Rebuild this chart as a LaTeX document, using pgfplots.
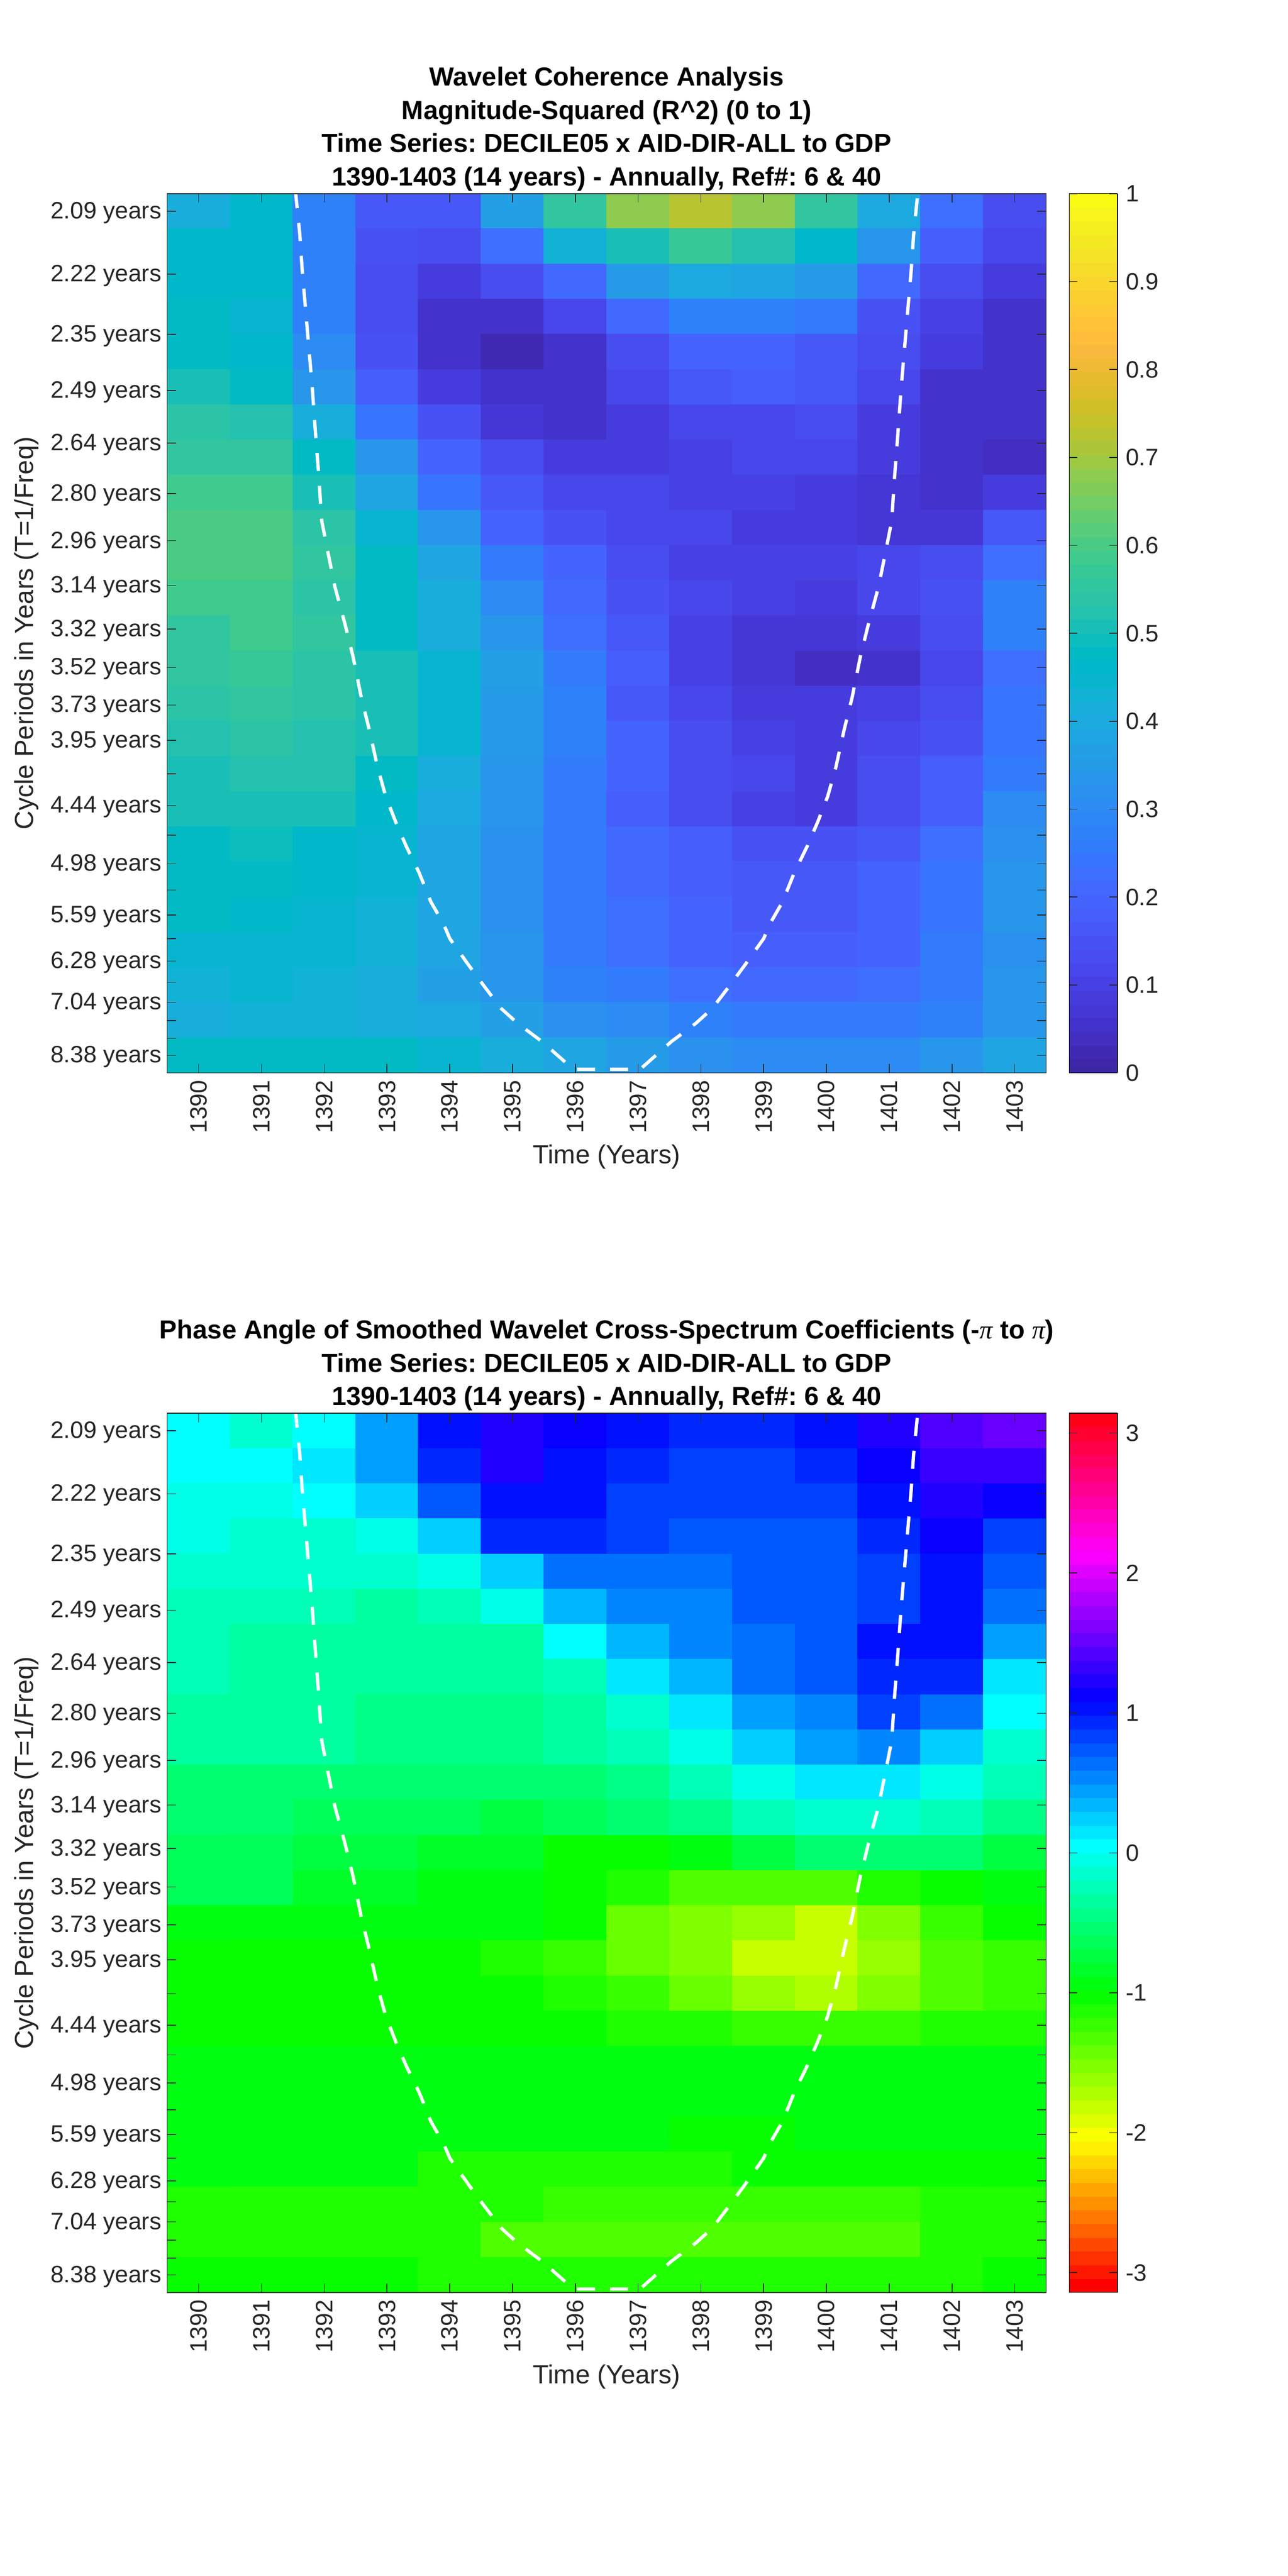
\documentclass[border=0pt]{standalone}
\usepackage{fontspec}
\setmainfont{Liberation Sans}
\newfontfamily\symf{Liberation Serif}
\usepackage{pgfplots}
\usepackage{pgfplotstable}
\pgfplotsset{compat=1.18}

% MATLAB parula(64)
\pgfplotsset{colormap={parula64}{
rgb=(.2422,.1504,.6603) rgb=(.2504,.1650,.7076) rgb=(.2578,.1818,.7511) rgb=(.2647,.1978,.7952)
rgb=(.2706,.2147,.8364) rgb=(.2751,.2342,.8710) rgb=(.2783,.2559,.8991) rgb=(.2803,.2782,.9221)
rgb=(.2813,.3006,.9414) rgb=(.2810,.3228,.9579) rgb=(.2795,.3447,.9717) rgb=(.2760,.3667,.9829)
rgb=(.2699,.3892,.9906) rgb=(.2602,.4123,.9952) rgb=(.2440,.4358,.9988) rgb=(.2206,.4603,.9973)
rgb=(.1963,.4847,.9892) rgb=(.1834,.5074,.9798) rgb=(.1786,.5289,.9682) rgb=(.1764,.5499,.9520)
rgb=(.1687,.5703,.9359) rgb=(.1540,.5902,.9218) rgb=(.1460,.6091,.9079) rgb=(.1380,.6276,.8973)
rgb=(.1248,.6459,.8883) rgb=(.1113,.6635,.8763) rgb=(.0952,.6798,.8598) rgb=(.0689,.6948,.8394)
rgb=(.0297,.7082,.8163) rgb=(.0036,.7203,.7917) rgb=(.0067,.7312,.7660) rgb=(.0433,.7411,.7394)
rgb=(.0964,.7500,.7120) rgb=(.1408,.7584,.6842) rgb=(.1717,.7670,.6554) rgb=(.1938,.7758,.6251)
rgb=(.2161,.7843,.5923) rgb=(.2470,.7918,.5567) rgb=(.2906,.7973,.5188) rgb=(.3406,.8008,.4789)
rgb=(.3909,.8029,.4354) rgb=(.4456,.8024,.3909) rgb=(.5044,.7993,.3480) rgb=(.5616,.7942,.3045)
rgb=(.6174,.7876,.2612) rgb=(.6720,.7793,.2227) rgb=(.7242,.7698,.1910) rgb=(.7738,.7598,.1646)
rgb=(.8203,.7498,.1535) rgb=(.8634,.7406,.1596) rgb=(.9035,.7330,.1774) rgb=(.9393,.7288,.2100)
rgb=(.9728,.7298,.2394) rgb=(.9956,.7434,.2371) rgb=(.9970,.7659,.2199) rgb=(.9952,.7893,.2028)
rgb=(.9892,.8136,.1885) rgb=(.9786,.8386,.1766) rgb=(.9676,.8639,.1643) rgb=(.9610,.8890,.1537)
rgb=(.9597,.9135,.1423) rgb=(.9628,.9373,.1265) rgb=(.9691,.9606,.1064) rgb=(.9769,.9839,.0805)
}}
% MATLAB hsv(64)
\pgfplotsset{colormap={hsv64}{
rgb=(1,0,0) rgb=(1,.094,0) rgb=(1,.188,0) rgb=(1,.281,0) rgb=(1,.375,0) rgb=(1,.469,0) rgb=(1,.563,0) rgb=(1,.656,0)
rgb=(1,.75,0) rgb=(1,.844,0) rgb=(1,.938,0) rgb=(.969,1,0) rgb=(.875,1,0) rgb=(.781,1,0) rgb=(.688,1,0) rgb=(.594,1,0)
rgb=(.5,1,0) rgb=(.406,1,0) rgb=(.313,1,0) rgb=(.219,1,0) rgb=(.125,1,0) rgb=(.031,1,0) rgb=(0,1,.063) rgb=(0,1,.156)
rgb=(0,1,.25) rgb=(0,1,.344) rgb=(0,1,.438) rgb=(0,1,.531) rgb=(0,1,.625) rgb=(0,1,.719) rgb=(0,1,.813) rgb=(0,1,.906)
rgb=(0,1,1) rgb=(0,.906,1) rgb=(0,.813,1) rgb=(0,.719,1) rgb=(0,.625,1) rgb=(0,.531,1) rgb=(0,.438,1) rgb=(0,.344,1)
rgb=(0,.25,1) rgb=(0,.156,1) rgb=(0,.063,1) rgb=(.031,0,1) rgb=(.125,0,1) rgb=(.219,0,1) rgb=(.313,0,1) rgb=(.406,0,1)
rgb=(.5,0,1) rgb=(.594,0,1) rgb=(.688,0,1) rgb=(.781,0,1) rgb=(.875,0,1) rgb=(.969,0,1) rgb=(1,0,.938) rgb=(1,0,.844)
rgb=(1,0,.75) rgb=(1,0,.656) rgb=(1,0,.563) rgb=(1,0,.469) rgb=(1,0,.375) rgb=(1,0,.281) rgb=(1,0,.188) rgb=(1,0,.094)
}}

% coherence, one line per period row, 14 years
\pgfplotstableread[row sep=\\]{
c\\
.41\\ .46\\ .27\\ .17\\ .17\\ .36\\ .55\\ .68\\ .73\\ .68\\ .56\\ .40\\ .22\\ .13\\
.46\\ .46\\ .28\\ .15\\ .13\\ .22\\ .43\\ .50\\ .57\\ .53\\ .46\\ .33\\ .18\\ .11\\
.46\\ .46\\ .27\\ .14\\ .09\\ .14\\ .21\\ .35\\ .40\\ .39\\ .35\\ .21\\ .14\\ .08\\
.47\\ .45\\ .27\\ .13\\ .05\\ .05\\ .12\\ .21\\ .28\\ .28\\ .26\\ .15\\ .10\\ .05\\
.48\\ .46\\ .30\\ .15\\ .05\\ .03\\ .06\\ .14\\ .20\\ .20\\ .17\\ .13\\ .08\\ .05\\
.50\\ .48\\ .34\\ .18\\ .09\\ .06\\ .06\\ .12\\ .16\\ .18\\ .16\\ .11\\ .06\\ .05\\
.54\\ .52\\ .41\\ .24\\ .15\\ .07\\ .05\\ .09\\ .12\\ .12\\ .13\\ .09\\ .06\\ .05\\
.56\\ .56\\ .47\\ .33\\ .19\\ .13\\ .09\\ .09\\ .10\\ .11\\ .11\\ .09\\ .06\\ .04\\
.58\\ .58\\ .50\\ .38\\ .24\\ .17\\ .12\\ .11\\ .10\\ .10\\ .09\\ .07\\ .05\\ .09\\
.60\\ .60\\ .54\\ .44\\ .33\\ .20\\ .15\\ .12\\ .11\\ .09\\ .09\\ .07\\ .07\\ .17\\
.60\\ .60\\ .55\\ .48\\ .38\\ .26\\ .19\\ .14\\ .10\\ .10\\ .10\\ .11\\ .13\\ .23\\
.58\\ .58\\ .54\\ .48\\ .41\\ .30\\ .21\\ .15\\ .11\\ .10\\ .08\\ .11\\ .15\\ .28\\
.56\\ .59\\ .55\\ .48\\ .42\\ .34\\ .23\\ .16\\ .10\\ .07\\ .07\\ .09\\ .14\\ .27\\
.55\\ .57\\ .54\\ .51\\ .44\\ .36\\ .26\\ .18\\ .10\\ .07\\ .04\\ .05\\ .12\\ .22\\
.54\\ .55\\ .54\\ .51\\ .45\\ .35\\ .27\\ .17\\ .12\\ .09\\ .08\\ .10\\ .14\\ .24\\
.52\\ .54\\ .53\\ .51\\ .44\\ .35\\ .27\\ .19\\ .14\\ .10\\ .09\\ .11\\ .15\\ .24\\
.50\\ .52\\ .52\\ .47\\ .41\\ .34\\ .26\\ .19\\ .14\\ .12\\ .09\\ .13\\ .18\\ .26\\
.50\\ .51\\ .51\\ .46\\ .40\\ .33\\ .26\\ .18\\ .13\\ .10\\ .09\\ .14\\ .18\\ .30\\
.48\\ .49\\ .46\\ .45\\ .39\\ .32\\ .26\\ .21\\ .18\\ .15\\ .15\\ .17\\ .23\\ .32\\
.47\\ .47\\ .46\\ .44\\ .39\\ .32\\ .26\\ .21\\ .18\\ .16\\ .16\\ .19\\ .24\\ .33\\
.47\\ .46\\ .45\\ .43\\ .38\\ .32\\ .26\\ .22\\ .19\\ .17\\ .17\\ .19\\ .24\\ .33\\
.44\\ .45\\ .44\\ .43\\ .38\\ .33\\ .26\\ .23\\ .19\\ .18\\ .18\\ .20\\ .25\\ .32\\
.43\\ .44\\ .43\\ .42\\ .37\\ .33\\ .27\\ .25\\ .22\\ .21\\ .21\\ .23\\ .26\\ .34\\
.41\\ .43\\ .43\\ .41\\ .40\\ .37\\ .32\\ .30\\ .27\\ .26\\ .26\\ .26\\ .28\\ .34\\
.47\\ .47\\ .48\\ .47\\ .45\\ .41\\ .38\\ .35\\ .32\\ .30\\ .30\\ .31\\ .33\\ .38\\
}\tabcoh

% phase angle, same layout
\pgfplotstableread[row sep=\\]{
c\\
.00\\ -.10\\ .03\\ .45\\ 1.00\\ 1.25\\ 1.08\\ 1.00\\ .95\\ .95\\ 1.05\\ 1.25\\ 1.45\\ 1.55\\
.02\\ .00\\ .12\\ .42\\ .90\\ 1.20\\ 1.07\\ .90\\ .85\\ .85\\ .90\\ 1.10\\ 1.35\\ 1.35\\
-.05\\ -.05\\ .02\\ .20\\ .75\\ 1.07\\ 1.00\\ .88\\ .82\\ .82\\ .88\\ 1.03\\ 1.25\\ 1.08\\
-.08\\ -.12\\ -.13\\ -.03\\ .28\\ .93\\ .93\\ .80\\ .72\\ .72\\ .78\\ .98\\ 1.08\\ .88\\
-.15\\ -.17\\ -.17\\ -.17\\ -.08\\ .28\\ .60\\ .60\\ .60\\ .70\\ .78\\ .85\\ 1.05\\ .70\\
-.22\\ -.20\\ -.28\\ -.33\\ -.23\\ -.08\\ .30\\ .50\\ .58\\ .70\\ .78\\ .85\\ 1.03\\ .60\\
-.27\\ -.33\\ -.33\\ -.38\\ -.38\\ -.30\\ .00\\ .32\\ .50\\ .62\\ .78\\ 1.00\\ 1.05\\ .40\\
-.27\\ -.33\\ -.38\\ -.38\\ -.38\\ -.35\\ -.20\\ .15\\ .38\\ .60\\ .78\\ .93\\ .98\\ .17\\
-.33\\ -.36\\ -.38\\ -.40\\ -.40\\ -.40\\ -.30\\ -.10\\ .12\\ .40\\ .55\\ .85\\ .60\\ .02\\
-.35\\ -.38\\ -.38\\ -.40\\ -.40\\ -.40\\ -.35\\ -.28\\ -.03\\ .22\\ .40\\ .50\\ .22\\ -.13\\
-.50\\ -.50\\ -.50\\ -.50\\ -.55\\ -.55\\ -.50\\ -.40\\ -.22\\ -.02\\ .10\\ .12\\ -.02\\ -.22\\
-.55\\ -.55\\ -.60\\ -.60\\ -.68\\ -.73\\ -.65\\ -.50\\ -.45\\ -.28\\ -.15\\ -.15\\ -.20\\ -.45\\
-.65\\ -.65\\ -.70\\ -.72\\ -.85\\ -.88\\ -1.00\\ -1.05\\ -.95\\ -.70\\ -.55\\ -.55\\ -.55\\ -.75\\
-.60\\ -.60\\ -.80\\ -.80\\ -.95\\ -.95\\ -1.05\\ -1.15\\ -1.30\\ -1.35\\ -1.35\\ -1.10\\ -1.02\\ -.95\\
-.97\\ -.97\\ -.97\\ -.97\\ -.97\\ -.97\\ -1.05\\ -1.40\\ -1.55\\ -1.65\\ -1.80\\ -1.50\\ -1.25\\ -1.02\\
-1.00\\ -1.00\\ -1.00\\ -1.00\\ -1.00\\ -1.10\\ -1.25\\ -1.40\\ -1.55\\ -1.85\\ -1.85\\ -1.65\\ -1.35\\ -1.25\\
-1.00\\ -1.00\\ -1.00\\ -1.00\\ -1.00\\ -1.00\\ -1.15\\ -1.25\\ -1.45\\ -1.65\\ -1.70\\ -1.55\\ -1.35\\ -1.25\\
-1.00\\ -1.00\\ -1.00\\ -1.00\\ -1.00\\ -1.00\\ -1.00\\ -1.10\\ -1.12\\ -1.22\\ -1.22\\ -1.20\\ -1.12\\ -1.12\\
-.95\\ -.95\\ -.95\\ -.95\\ -.95\\ -.95\\ -.95\\ -.95\\ -.95\\ -.95\\ -.95\\ -.95\\ -.95\\ -.95\\
-.95\\ -.95\\ -.95\\ -.95\\ -.95\\ -.95\\ -.95\\ -.95\\ -.97\\ -.97\\ -.97\\ -.95\\ -.95\\ -.95\\
-.97\\ -.97\\ -.97\\ -.97\\ -.97\\ -.97\\ -.97\\ -.97\\ -1.03\\ -1.03\\ -.97\\ -.97\\ -.97\\ -.97\\
-.97\\ -.97\\ -.97\\ -.97\\ -1.10\\ -1.10\\ -1.10\\ -1.10\\ -1.10\\ -1.03\\ -1.03\\ -1.03\\ -1.03\\ -1.03\\
-1.15\\ -1.15\\ -1.15\\ -1.15\\ -1.15\\ -1.15\\ -1.22\\ -1.22\\ -1.22\\ -1.22\\ -1.22\\ -1.22\\ -1.15\\ -1.15\\
-1.15\\ -1.15\\ -1.15\\ -1.15\\ -1.15\\ -1.28\\ -1.28\\ -1.28\\ -1.28\\ -1.28\\ -1.28\\ -1.28\\ -1.15\\ -1.15\\
-1.03\\ -1.03\\ -1.03\\ -1.03\\ -1.10\\ -1.10\\ -1.10\\ -1.10\\ -1.10\\ -1.10\\ -1.10\\ -1.10\\ -1.10\\ -1.03\\
}\tabphase

% cone of influence: year, row position
\pgfplotstableread{
x y
1391.54 -0.1
1391.61 1.14
1391.65 2.19
1391.70 3.23
1391.75 4.28
1391.81 5.53
1391.86 6.79
1391.91 7.94
1391.96 9.30
1392.04 10.03
1392.17 11.18
1392.33 12.23
1392.46 13.17
1392.59 14.32
1392.72 15.26
1392.85 16.31
1392.98 17.14
1393.14 17.87
1393.31 18.57
1393.51 19.30
1393.70 20.14
1393.90 20.76
1394.00 21.18
1394.29 21.91
1394.55 22.54
1394.82 23.17
1395.08 23.59
1395.47 24.11
1395.97 24.90
1397.03 24.90
1397.53 24.11
1397.92 23.59
1398.18 23.17
1398.45 22.54
1398.71 21.91
1399.00 21.18
1399.10 20.76
1399.30 20.14
1399.49 19.30
1399.69 18.57
1399.86 17.87
1400.02 17.14
1400.15 16.31
1400.28 15.26
1400.41 14.32
1400.54 13.17
1400.67 12.23
1400.83 11.18
1400.96 10.03
1401.04 9.30
1401.09 7.94
1401.14 6.79
1401.19 5.53
1401.25 4.28
1401.30 3.23
1401.35 2.19
1401.39 1.14
1401.46 -0.1
}\tabcoi

\definecolor{axgray}{rgb}{0.15,0.15,0.15}
\newcommand{\periodticks}{0.50,2.29,4.00,5.60,7.09,8.53,9.87,11.14,12.38,13.47,14.54,15.54,16.50,17.40,18.24,19.04,19.80,20.51,21.18,21.82,22.42,22.99,23.51,24.02,24.50}

\pgfplotsset{
  /pgf/number format/assume math mode=true,
  wc axis/.style={
    scale only axis, width=533.25pt, height=533.5pt,
    xmin=1389.5, xmax=1403.5, ymin=0, ymax=25, y dir=reverse,
    axis on top, tick align=inside, major tick length=5.5pt,
    axis line style={axgray, line width=0.5pt},
    tick style={axgray, line width=0.5pt},
    tick label style={axgray, font=\fontsize{14.4}{16}\selectfont},
    xtick={1390,1391,1392,1393,1394,1395,1396,1397,1398,1399,1400,1401,1402,1403},
    xticklabels={1390,1391,1392,1393,1394,1395,1396,1397,1398,1399,1400,1401,1402,1403},
    xticklabel style={rotate=90, anchor=east, xshift=-1pt},
    yticklabel style={yshift=-1pt},
    ytick=\periodticks,
    yticklabels={2.09 years,2.22 years,2.35 years,2.49 years,2.64 years,2.80 years,2.96 years,3.14 years,3.32 years,3.52 years,3.73 years,3.95 years,{},4.44 years,{},4.98 years,{},5.59 years,{},6.28 years,{},7.04 years,{},{},8.38 years},
    xlabel={Time (Years)},
    ylabel={Cycle Periods in Years (T=1/Freq)},
    label style={axgray, font=\fontsize{15.84}{18}\selectfont},
    xlabel style={at={(axis description cs:0.5,-0.0956)}, anchor=center},
    ylabel style={at={(axis description cs:-0.160,0.5)}, anchor=center, rotate=0},
    title style={font=\fontsize{15.84}{20.2}\selectfont\bfseries\frenchspacing, align=center, at={(axis description cs:0.5,1)}, anchor=south, yshift=-8pt},
    colormap access=piecewise constant,
    colorbar sampled,
    colorbar shift/.style={},
    clip=true,
  },
  coi line/.style={white, line width=2pt, dash pattern=on 11pt off 9pt},
  wc bar/.style={at={(parent axis.north east)}, anchor=north west, xshift=14pt,
    width=29.25pt, samples=65, colormap access=piecewise constant,
    major tick length=5pt, yticklabel style={xshift=1.5pt}},
}

\begin{document}
\begin{tikzpicture}
\useasboundingbox (0,0) rectangle (781.25pt,1563pt);

\begin{axis}[wc axis, at={(101.5pt,912pt)}, anchor=south west,
  colormap name=parula64, point meta min=0, point meta max=1,
  title={Wavelet Coherence Analysis\\Magnitude-Squared (R\textasciicircum 2) (0 to 1)\\Time Series: DECILE05 x AID-DIR-ALL to GDP\\1390-1403 (14 years) - Annually, Ref\#: 6 \& 40},
  colorbar style={wc bar,
    ytick={0,0.1,0.2,0.3,0.4,0.5,0.6,0.7,0.8,0.9,1},
    yticklabels={0,0.1,0.2,0.3,0.4,0.5,0.6,0.7,0.8,0.9,1},
    ymin=0, ymax=1},
]
\addplot[matrix plot*, mesh/cols=14, point meta=explicit]
  table[x=c, y=c, x expr={1390+mod(\coordindex,14)}, y expr={floor((\coordindex+0.5)/14)+0.5}, meta=c] {\tabcoh};
\addplot[coi line] table[x=x, y=y] {\tabcoi};
\end{axis}

\begin{axis}[wc axis, at={(101.5pt,172pt)}, anchor=south west,
  colormap name=hsv64, point meta min=-3.14159, point meta max=3.14159,
  title={Phase Angle of Smoothed Wavelet Cross-Spectrum Coefficients (-{\symf\mdseries\itshape π} to {\symf\mdseries\itshape π})\\Time Series: DECILE05 x AID-DIR-ALL to GDP\\1390-1403 (14 years) - Annually, Ref\#: 6 \& 40},
  colorbar style={wc bar,
    ytick={-3,-2,-1,0,1,2,3},
    yticklabels={-3,-2,-1,0,1,2,3},
    ymin=-3.14159, ymax=3.14159},
]
\addplot[matrix plot*, mesh/cols=14, point meta=explicit]
  table[x=c, y=c, x expr={1390+mod(\coordindex,14)}, y expr={floor((\coordindex+0.5)/14)+0.5}, meta=c] {\tabphase};
\addplot[coi line] table[x=x, y=y] {\tabcoi};
\end{axis}
\end{tikzpicture}
\end{document}
